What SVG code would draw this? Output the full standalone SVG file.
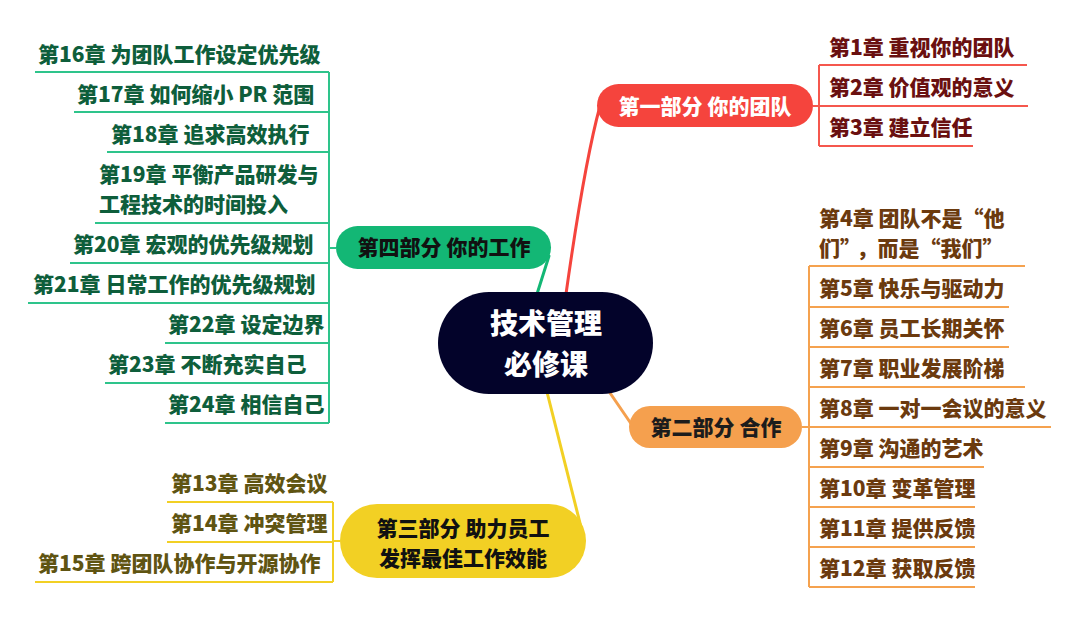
<svg xmlns="http://www.w3.org/2000/svg" width="1080" height="617" viewBox="0 0 1080 617">
<style>
text{font-family:"Noto Sans CJK SC","Noto Sans",sans-serif;font-weight:900}
.ch{font-size:21px}
.pt{font-size:21px;text-anchor:middle}
.ct{font-size:28px;text-anchor:middle;fill:#ffffff}
.r{fill:#6a1010}.o{fill:#6b3a0e}.g{fill:#0e5e3b}.y{fill:#5f5412}
.lr{stroke:#f5574d;stroke-width:2;fill:none}
.lo{stroke:#f5a24f;stroke-width:2;fill:none}
.lg{stroke:#2ec48b;stroke-width:2;fill:none}
.ly{stroke:#f2d024;stroke-width:2;fill:none}
.br{stroke-width:3;fill:none;stroke-linecap:round}
</style>
<rect width="1080" height="617" fill="#ffffff"/>
<g id="connectors">
<path class="br" stroke="#f5443d" d="M566,294 C575,230 588,150 600,106"/>
<path class="br" stroke="#f5a04e" d="M608,390 L634,428"/>
<path class="br" stroke="#13b775" d="M537,294 L549,256"/>
<path class="br" stroke="#f2d024" d="M547,392 L583,535"/>
<path class="lr" d="M813,106 H819 M819,65 V146 M819,65 H1027 M819,106 H1028 M819,146 H973"/>
<path class="lo" d="M802,427 H809 M809,266 V587 M809,266 H1025 M809,307 H1009 M809,347 H1009 M809,387 H1025 M809,427 H1051 M809,467 H984 M809,507 H975 M809,547 H975 M809,587 H975"/>
<path class="lg" d="M336,248 H329 M329,72 V423 M35,72 H329 M74,112 H329 M107,152 H329 M95,223 H329 M70,263 H329 M28,303 H329 M165,343 H329 M105,383 H329 M165,423 H329"/>
<path class="ly" d="M340,541 H333 M333,502 V582 M167,502 H333 M167,542 H333 M35,582 H333"/>
</g>
<g id="center">
<rect x="438" y="292" width="215" height="102" rx="51" fill="#03032a"/>
<text class="ct" x="546" y="334">技术管理</text>
<text class="ct" x="546" y="375">必修课</text>
</g>
<g id="part1">
<rect x="597" y="84" width="216" height="43" rx="21.5" fill="#f5443d"/>
<text class="pt" x="705" y="114" fill="#ffffff">第一部分 你的团队</text>
</g>
<g id="part1-items">
<text class="ch r" x="829" y="55">第1章 重视你的团队</text>
<text class="ch r" x="829" y="95">第2章 价值观的意义</text>
<text class="ch r" x="829" y="135">第3章 建立信任</text>
</g>
<g id="part2">
<rect x="629" y="406" width="173" height="42" rx="21" fill="#f5a04e"/>
<text class="pt" x="716" y="435" fill="#1c1c1c">第二部分 合作</text>
</g>
<g id="part2-items">
<text class="ch o" x="819" y="226">第4章 团队不是“他</text>
<text class="ch o" x="819" y="256">们”<tspan dx="6">，而是“我们”</tspan></text>
<text class="ch o" x="819" y="296">第5章 快乐与驱动力</text>
<text class="ch o" x="819" y="336">第6章 员工长期关怀</text>
<text class="ch o" x="819" y="376">第7章 职业发展阶梯</text>
<text class="ch o" x="819" y="416">第8章 一对一会议的意义</text>
<text class="ch o" x="819" y="456">第9章 沟通的艺术</text>
<text class="ch o" x="819" y="496">第10章 变革管理</text>
<text class="ch o" x="819" y="536">第11章 提供反馈</text>
<text class="ch o" x="819" y="576">第12章 获取反馈</text>
</g>
<g id="part3">
<rect x="340" y="504" width="246" height="74" rx="37" fill="#f2d024"/>
<text class="pt" x="463" y="536" fill="#111111">第三部分 助力员工</text>
<text class="pt" x="463" y="566" fill="#111111">发挥最佳工作效能</text>
</g>
<g id="part3-items">
<text class="ch y" x="171" y="491">第13章 高效会议</text>
<text class="ch y" x="171" y="531">第14章 冲突管理</text>
<text class="ch y" x="38" y="571">第15章 跨团队协作与开源协作</text>
</g>
<g id="part4">
<rect x="336" y="226" width="215" height="43" rx="21.5" fill="#13b775"/>
<text class="pt" x="444" y="255" fill="#111111">第四部分 你的工作</text>
</g>
<g id="part4-items">
<text class="ch g" x="38" y="62">第16章 为团队工作设定优先级</text>
<text class="ch g" x="77" y="102">第17章 如何缩小 PR 范围</text>
<text class="ch g" x="111" y="142">第18章 追求高效执行</text>
<text class="ch g" x="99" y="182">第19章 平衡产品研发与</text>
<text class="ch g" x="99" y="212">工程技术的时间投入</text>
<text class="ch g" x="73" y="252">第20章 宏观的优先级规划</text>
<text class="ch g" x="33" y="292">第21章 日常工作的优先级规划</text>
<text class="ch g" x="168" y="332">第22章 设定边界</text>
<text class="ch g" x="108" y="372">第23章 不断充实自己</text>
<text class="ch g" x="168" y="412">第24章 相信自己</text>
</g>
</svg>
